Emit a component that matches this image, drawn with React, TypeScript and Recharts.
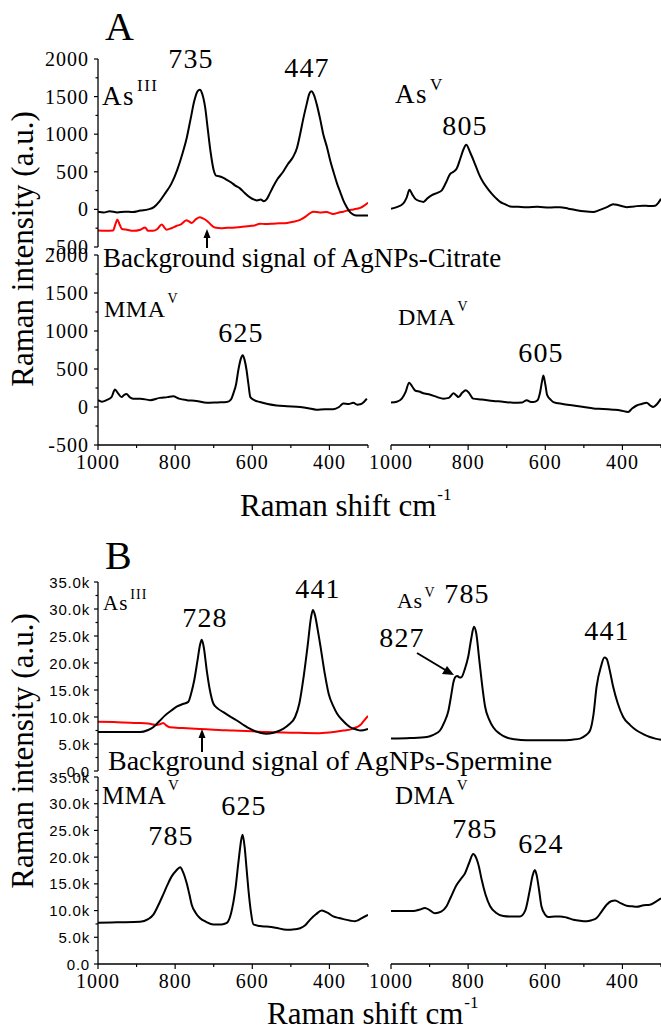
import { Line, LineChart, XAxis, YAxis } from "recharts";

// Panel A (AgNPs-Citrate) spectra, Raman shift (cm-1) / intensity (a.u.)
const aAs3Shift = [1000, 985, 970, 950, 930, 910, 890, 870, 855, 840, 825, 810, 795, 780, 770, 760, 750, 742, 736, 730, 722, 715, 708, 700, 694, 686, 675, 665, 655, 645, 632, 620, 606, 595, 588, 578, 570, 562, 554, 546, 535, 520, 508, 494, 484, 476, 468, 459, 452, 447, 440, 433, 424, 416, 406, 398, 389, 380, 372, 364, 355, 346, 338, 330, 315, 300];
const aAs3Int = [-30, -40, -25, -40, -30, -35, -15, 0, 30, 110, 220, 340, 520, 760, 950, 1200, 1450, 1570, 1590, 1540, 1350, 1050, 760, 520, 450, 440, 420, 390, 360, 320, 280, 220, 160, 130, 120, 130, 110, 140, 220, 300, 400, 500, 600, 700, 820, 1000, 1200, 1400, 1540, 1570, 1520, 1400, 1200, 1000, 820, 650, 490, 340, 230, 120, 30, -40, -70, -80, -80, -80];

const aBgShift = [1000, 980, 961, 955, 950, 944, 938, 925, 909, 890, 878, 870, 857, 846, 835, 828, 822, 810, 797, 785, 771, 764, 757, 746, 736, 728, 718, 708, 697, 680, 665, 650, 630, 606, 595, 580, 565, 546, 530, 510, 494, 476, 460, 450, 442, 425, 407, 395, 390, 375, 364, 350, 338, 320, 310, 300];
const aBgInt = [-280, -285, -280, -200, -135, -200, -260, -270, -285, -270, -240, -285, -285, -260, -200, -240, -270, -250, -220, -200, -145, -160, -180, -130, -105, -120, -150, -200, -240, -250, -245, -245, -235, -220, -215, -190, -195, -190, -185, -180, -165, -140, -90, -50, -30, -40, -35, -55, -60, -40, -30, -10, 0, 20, 50, 90];

const aAs5Shift = [1000, 985, 968, 960, 952, 945, 937, 925, 916, 905, 894, 880, 869, 858, 847, 838, 830, 820, 812, 805, 795, 782, 772, 761, 750, 739, 728, 717, 705, 691, 670, 648, 620, 590, 562, 540, 519, 500, 476, 460, 440, 424, 410, 389, 370, 346, 330, 315, 308, 300];
const aAs5Int = [10, 30, 80, 150, 260, 200, 140, 110, 100, 150, 190, 220, 250, 350, 470, 500, 540, 680, 800, 860, 760, 600, 470, 360, 280, 210, 150, 100, 70, 40, 35, 30, 35, 25, 30, 10, -10, -25, -35, -10, 30, 70, 55, 30, 40, 50, 45, 50, 80, 140];

const aMmaShift = [1000, 990, 978, 965, 956, 948, 939, 932, 926, 918, 909, 890, 865, 840, 820, 805, 790, 770, 745, 718, 690, 666, 655, 649, 642, 636, 630, 625, 620, 615, 610, 605, 595, 580, 560, 537, 510, 476, 455, 434, 412, 390, 375, 364, 350, 338, 328, 320, 310, 303];
const aMmaInt = [90, 70, 90, 130, 230, 180, 130, 160, 170, 130, 110, 110, 90, 120, 130, 140, 110, 90, 80, 55, 60, 65, 100, 180, 300, 490, 630, 680, 620, 490, 300, 130, 90, 65, 40, 20, 10, 0, -15, -35, -30, -30, 0, 45, 40, 55, 30, 35, 70, 110];

const aDmaShift = [1000, 985, 972, 962, 953, 945, 938, 925, 916, 905, 894, 880, 864, 850, 838, 830, 825, 815, 806, 797, 787, 765, 735, 710, 683, 660, 648, 640, 631, 620, 614, 608, 605, 600, 595, 585, 579, 555, 527, 500, 475, 450, 424, 405, 385, 375, 363, 350, 337, 328, 320, 310, 300];
const aDmaInt = [60, 70, 110, 200, 320, 270, 220, 200, 180, 170, 155, 130, 110, 120, 180, 150, 130, 190, 220, 180, 110, 100, 80, 70, 55, 60, 90, 70, 65, 90, 180, 350, 415, 300, 155, 90, 65, 40, 20, 0, -20, -25, -35, -45, -65, -20, 20, 40, 55, 20, 0, 40, 110];

// Panel B (AgNPs-Spermine) spectra
const bAs3Shift = [1000, 950, 891, 870, 857, 840, 826, 810, 796, 780, 766, 758, 750, 742, 735, 731, 726, 718, 710, 701, 690, 675, 660, 641, 620, 597, 580, 563, 545, 520, 505, 489, 478, 467, 456, 448, 443, 438, 430, 423, 412, 402, 390, 380, 365, 346, 330, 320, 300];
const bAs3Int = [7200, 7200, 7200, 7600, 8100, 9300, 10300, 11200, 11900, 12400, 12800, 14500, 17000, 20500, 23500, 24300, 23000, 18600, 15000, 12500, 11600, 10900, 10200, 9400, 8400, 7500, 7100, 6900, 7100, 7800, 8600, 10000, 12500, 17400, 23500, 28300, 29800, 29000, 26000, 23000, 18000, 14300, 12000, 10600, 9300, 8100, 7700, 7500, 7800];

const bBgShift = [1000, 950, 901, 870, 848, 838, 831, 824, 814, 780, 736, 700, 649, 600, 563, 500, 433, 400, 364, 340, 330, 320, 313, 300];
const bBgInt = [9100, 9050, 8900, 8800, 8500, 8700, 8900, 8500, 8100, 7950, 7800, 7650, 7500, 7350, 7200, 7100, 7000, 7150, 7500, 7800, 8100, 8500, 9100, 10200];

const bAs5Shift = [1000, 950, 907, 890, 873, 862, 851, 844, 838, 832, 828, 822, 817, 808, 800, 792, 785, 779, 771, 763, 756, 746, 735, 718, 700, 680, 648, 600, 562, 530, 510, 495, 484, 475, 467, 455, 447, 441, 434, 424, 412, 398, 380, 363, 345, 329, 315, 300];
const bAs5Int = [6000, 6100, 6300, 6700, 7500, 9000, 11200, 14000, 16500, 17500, 17600, 17300, 17400, 19000, 21100, 24500, 26700, 25500, 20500, 15500, 11900, 9600, 8100, 6900, 6200, 5900, 5700, 5700, 5700, 5800, 6000, 6600, 7500, 10500, 15600, 19500, 21000, 20800, 19000, 15600, 12500, 10000, 8500, 7500, 6800, 6300, 6000, 5800];

const bMmaShift = [1000, 950, 891, 870, 857, 845, 831, 820, 809, 797, 787, 780, 770, 763, 757, 747, 736, 720, 701, 680, 666, 655, 644, 636, 628, 625, 620, 615, 610, 604, 597, 580, 563, 540, 511, 490, 476, 462, 450, 435, 420, 405, 390, 375, 364, 345, 334, 325, 316, 300];
const bMmaInt = [7700, 7800, 7900, 8400, 9200, 10800, 13000, 14800, 16400, 17500, 18100, 17300, 15100, 13000, 11100, 9600, 8600, 7900, 7400, 7400, 7700, 9500, 13900, 19000, 23500, 24200, 22000, 18000, 13900, 10000, 7400, 7100, 7000, 6800, 6400, 6500, 6700, 7300, 8300, 9300, 10000, 9600, 8900, 8600, 8400, 8100, 8000, 8200, 8600, 9200];

const bDmaShift = [1000, 970, 942, 925, 912, 900, 886, 870, 856, 845, 830, 818, 808, 797, 787, 780, 772, 765, 755, 743, 728, 709, 690, 666, 652, 640, 633, 627, 622, 616, 610, 600, 592, 575, 562, 545, 527, 510, 493, 480, 467, 455, 441, 428, 419, 405, 389, 375, 363, 345, 329, 315, 300];
const bDmaInt = [9900, 9900, 9900, 10200, 10500, 10100, 9500, 9800, 10800, 12500, 14800, 16000, 17000, 19000, 20600, 20000, 18200, 15800, 13000, 10800, 9600, 9000, 8900, 8900, 10000, 13900, 16500, 17600, 16500, 13800, 10800, 9200, 8800, 8900, 8900, 8700, 8300, 8100, 8000, 8200, 8600, 9700, 11100, 11800, 11900, 11400, 10900, 10800, 10700, 11000, 11100, 11600, 12300];

// Axis ticks
const shiftTicks = [1000, 900, 800, 700, 600, 500, 400, 300];
const aIntTicks = [-500, -250, 0, 250, 500, 750, 1000, 1250, 1500, 1750, 2000];
const bIntTicks = [0, 2500, 5000, 7500, 10000, 12500, 15000, 17500, 20000, 22500, 25000, 27500, 30000, 32500, 35000];

const SERIF = "'Liberation Serif', 'Times New Roman', serif";
const SANS = "'Liberation Sans', Arial, sans-serif";

type Point = { x: number; y: number };

function zip(xs: number[], ys: number[]): Point[] {
  return xs.map((x, i) => ({ x, y: ys[i] }));
}

function formatA(v: number) {
  return String(v);
}

function formatB(v: number) {
  return v === 0 ? "0.0" : `${(v / 1000).toFixed(1)}k`;
}

function makeYTick(format: (v: number) => string, step: number, sans: boolean) {
  return (props: any) => {
    const { x, y, payload } = props;
    const v = payload.value as number;
    const major = v % step === 0;
    return (
      <g>
        <line x1={x - (major ? 4 : 2.5)} x2={x} y1={y} y2={y} stroke="#000" strokeWidth={1.2} />
        {major && (
          <text
            x={x - (sans ? 8 : 9)}
            y={y}
            textAnchor="end"
            dominantBaseline="central"
            fontFamily={sans ? SANS : SERIF}
            fontSize={sans ? 15 : 20}
            letterSpacing={sans ? 0.8 : 1}
            fill="#000"
          >
            {format(v)}
          </text>
        )}
      </g>
    );
  };
}

function XTick(props: any) {
  const { x, y, payload } = props;
  const v = payload.value as number;
  const major = v % 200 === 0;
  return (
    <g>
      <line x1={x} x2={x} y1={y} y2={y + (major ? 5 : 3)} stroke="#000" strokeWidth={1.2} />
      {major && (
        <text
          x={x}
          y={y + 24}
          textAnchor="middle"
          fontFamily={SERIF}
          fontSize={20}
          letterSpacing={1}
          fill="#000"
        >
          {v}
        </text>
      )}
    </g>
  );
}

type Series = { data: Point[]; color: string };

type PanelProps = {
  left: number;
  top: number;
  width: number;
  height: number;
  yDomain: [number, number];
  yTicks: number[];
  yTick: (props: any) => any;
  showY: boolean;
  showX: boolean;
  series: Series[];
};

function Spectrum({ left, top, width, height, yDomain, yTicks, yTick, showY, showX, series }: PanelProps) {
  const yw = showY ? 96 : 0;
  const ml = showY ? 0 : 30;
  const xh = showX ? 46 : 0;
  const pad = 14;
  return (
    <div style={{ position: "absolute", left: left - yw - ml, top: top - pad }}>
      <LineChart
        width={ml + yw + width + 4}
        height={height + pad * 2 + xh}
        margin={{ top: pad, right: 4, bottom: pad, left: ml }}
      >
        <XAxis
          type="number"
          dataKey="x"
          domain={[300, 1000]}
          reversed
          allowDataOverflow
          ticks={shiftTicks}
          interval={0}
          hide={!showX}
          height={xh}
          tickSize={0}
          tickMargin={0}
          tickLine={false}
          tick={XTick}
          axisLine={{ stroke: "#000", strokeWidth: 1.3 }}
        />
        <YAxis
          type="number"
          domain={yDomain}
          ticks={yTicks}
          interval={0}
          hide={!showY}
          width={yw}
          tickSize={0}
          tickMargin={0}
          tickLine={false}
          tick={yTick}
          axisLine={{ stroke: "#000", strokeWidth: 1.3 }}
        />
        {series.map((s, i) => (
          <Line
            key={i}
            data={s.data}
            dataKey="y"
            type="monotone"
            stroke={s.color}
            strokeWidth={2}
            dot={false}
            isAnimationActive={false}
          />
        ))}
      </LineChart>
    </div>
  );
}

function Species({ x, y, base, sup, size, supSize, rise, spacing }: any) {
  return (
    <text x={x} y={y} fontFamily={SERIF} fill="#000" fontSize={size} letterSpacing={spacing}>
      {base}
      <tspan dx={2} dy={-rise} fontSize={supSize}>{sup}</tspan>
    </text>
  );
}

function Peak({ x, y, label }: { x: number; y: number; label: string }) {
  return (
    <text x={x} y={y} textAnchor="middle" fontFamily={SERIF} fontSize={28} letterSpacing={1.2} fill="#000">
      {label}
    </text>
  );
}

function UpArrow({ x, y1, y2 }: { x: number; y1: number; y2: number }) {
  return (
    <g>
      <line x1={x} x2={x} y1={y1} y2={y2 + 6} stroke="#000" strokeWidth={2} />
      <polygon points={`${x},${y2} ${x - 3.5},${y2 + 9} ${x + 3.5},${y2 + 9}`} fill="#000" />
    </g>
  );
}

export default function App() {
  const yTickA = makeYTick(formatA, 500, false);
  const yTickB = makeYTick(formatB, 5000, true);
  const A = { yDomain: [-500, 2000] as [number, number], yTicks: aIntTicks, yTick: yTickA };
  const B = { yDomain: [0, 35000] as [number, number], yTicks: bIntTicks, yTick: yTickB };

  return (
    <div
      style={{
        position: "absolute",
        left: 0,
        top: 0,
        width: 661,
        height: 1030,
        overflow: "hidden",
        background: "#fff",
      }}
    >
      {/* Panel A */}
      <Spectrum left={98} top={59} width={270} height={188} {...A} showY showX={false}
        series={[{ data: zip(aBgShift, aBgInt), color: "#ff0000" }, { data: zip(aAs3Shift, aAs3Int), color: "#000" }]} />
      <Spectrum left={391} top={59} width={270} height={188} {...A} showY={false} showX={false}
        series={[{ data: zip(aAs5Shift, aAs5Int), color: "#000" }]} />
      <Spectrum left={98} top={255} width={270} height={190} {...A} showY showX
        series={[{ data: zip(aMmaShift, aMmaInt), color: "#000" }]} />
      <Spectrum left={391} top={255} width={270} height={190} {...A} showY={false} showX
        series={[{ data: zip(aDmaShift, aDmaInt), color: "#000" }]} />

      {/* Panel B */}
      <Spectrum left={98} top={582} width={270} height={189} {...B} showY showX={false}
        series={[{ data: zip(bBgShift, bBgInt), color: "#ff0000" }, { data: zip(bAs3Shift, bAs3Int), color: "#000" }]} />
      <Spectrum left={391} top={582} width={270} height={189} {...B} showY={false} showX={false}
        series={[{ data: zip(bAs5Shift, bAs5Int), color: "#000" }]} />
      <Spectrum left={98} top={777} width={270} height={187} {...B} showY showX
        series={[{ data: zip(bMmaShift, bMmaInt), color: "#000" }]} />
      <Spectrum left={391} top={777} width={270} height={187} {...B} showY={false} showX
        series={[{ data: zip(bDmaShift, bDmaInt), color: "#000" }]} />

      <svg
        width={661}
        height={1030}
        style={{ position: "absolute", left: 0, top: 0, pointerEvents: "none" }}
      >
        {/* Panel A labels */}
        <text x={105} y={40} fontFamily={SERIF} fontSize={40} fill="#000">A</text>
        <text x={33} y={249} transform="rotate(-90 33 249)" textAnchor="middle" fontFamily={SERIF} fontSize={31} fill="#000">
          Raman intensity (a.u.)
        </text>
        <text x={240} y={516} fontFamily={SERIF} fontSize={31} fill="#000">
          Raman shift cm
          <tspan dx={1} dy={-16} fontSize={17}>-1</tspan>
        </text>
        <Species x={102} y={105} base="As" sup="III" size={27} supSize={17} rise={14} spacing={1.5} />
        <Species x={395} y={103} base="As" sup="V" size={27} supSize={17} rise={13} spacing={1.5} />
        <Species x={104} y={317} base="MMA" sup="V" size={24} supSize={14} rise={14} spacing={0.5} />
        <Species x={398} y={325} base="DMA" sup="V" size={24} supSize={14} rise={14} spacing={0.5} />
        <Peak x={191} y={68} label="735" />
        <Peak x={307} y={77} label="447" />
        <Peak x={465} y={135} label="805" />
        <Peak x={241} y={342} label="625" />
        <Peak x={541} y={362} label="605" />
        <text x={103} y={267} fontFamily={SERIF} fontSize={27} fill="#000">
          Background signal of AgNPs-Citrate
        </text>
        <UpArrow x={207} y1={248} y2={229} />

        {/* Panel B labels */}
        <text x={105} y={569} fontFamily={SERIF} fontSize={40} fill="#000">B</text>
        <text x={33} y={751} transform="rotate(-90 33 751)" textAnchor="middle" fontFamily={SERIF} fontSize={31} fill="#000">
          Raman intensity (a.u.)
        </text>
        <text x={267} y={1024} fontFamily={SERIF} fontSize={31} fill="#000">
          Raman shift cm
          <tspan dx={1} dy={-16} fontSize={17}>-1</tspan>
        </text>
        <Species x={103} y={610} base="As" sup="III" size={21} supSize={14} rise={11} spacing={1} />
        <Species x={397} y={608} base="As" sup="V" size={22} supSize={14} rise={11} spacing={0.5} />
        <Species x={102} y={804} base="MMA" sup="V" size={25} supSize={15} rise={14} spacing={0.5} />
        <Species x={395} y={804} base="DMA" sup="V" size={25} supSize={15} rise={14} spacing={0.5} />
        <Peak x={205} y={627} label="728" />
        <Peak x={318} y={598} label="441" />
        <Peak x={467} y={603} label="785" />
        <Peak x={402} y={647} label="827" />
        <Peak x={607} y={640} label="441" />
        <Peak x={171} y={845} label="785" />
        <Peak x={244} y={815} label="625" />
        <Peak x={475} y={838} label="785" />
        <Peak x={541} y={853} label="624" />
        <text x={108} y={770} fontFamily={SERIF} fontSize={28} fill="#000">
          Background signal of AgNPs-Spermine
        </text>
        <UpArrow x={202} y1={752} y2={729} />
        <line x1={417} y1={653} x2={447} y2={671} stroke="#000" strokeWidth={2} />
        <polygon points="454,675 442,674 447,666" fill="#000" />
      </svg>
    </div>
  );
}
